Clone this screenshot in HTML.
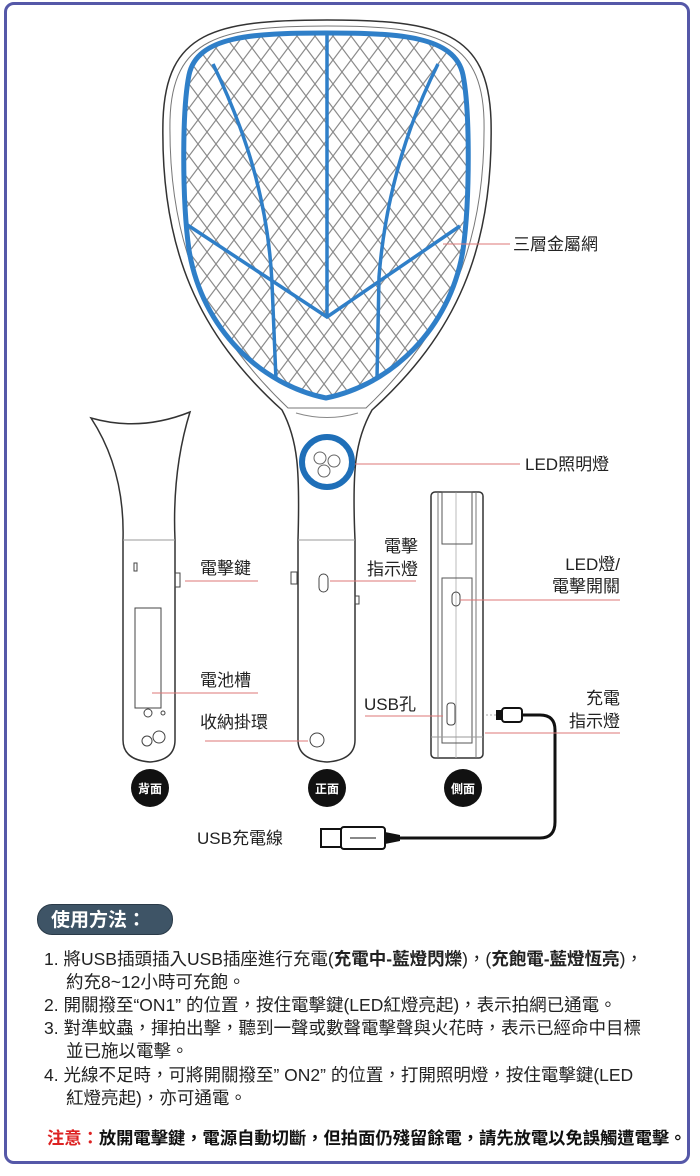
<!DOCTYPE html>
<html><head><meta charset="utf-8"><style>
body{margin:0;background:#fff;width:700px;height:1176px;overflow:hidden;font-family:"Liberation Sans","Noto Sans CJK TC",sans-serif;}
.frame{position:absolute;left:4px;top:2px;width:686px;height:1162px;border:3px solid #5558a8;border-radius:10px;box-sizing:border-box;}
svg{position:absolute;left:0;top:0}
.lbl{font-family:"Liberation Sans","Noto Sans CJK TC",sans-serif;font-size:17px;fill:#222}
.l{position:absolute;font-size:17.5px;color:#222;white-space:nowrap;line-height:20px}
.pill{position:absolute;left:37px;top:904px;width:136px;height:31px;background:#3e5466;border-radius:15px;color:#fff;font-weight:bold;font-size:19px;line-height:31px;padding-left:13px;box-sizing:border-box;border:1px solid #2a3a48;white-space:nowrap}
.note{position:absolute;left:47px;top:1124px;font-size:17.3px;font-weight:bold;color:#111;white-space:nowrap}
</style></head><body>
<div class="frame"></div>
<svg width="700" height="1176" viewBox="0 0 700 1176">
<defs>
<pattern id="mesh" width="18" height="24" patternUnits="userSpaceOnUse">
<path d="M0 0L18 24M18 0L0 24" stroke="#8a8a8a" stroke-width="1.2"/>
</pattern>
<clipPath id="hc"><path id="ip" d="M326 33 C400 33 455 36 463 75 C470 110 470 200 463 250 C450 330 390 385 326 398 C262 385 202 330 189 250 C182 200 182 110 189 75 C197 36 252 33 326 33Z"/></clipPath>
</defs>
<path d="M327 20 C440 20 488 32 491 120 C494 250 455 335 372 410 C355 440 352 470 355 540 L355 740 Q355 760 327 762 Q298 760 298 740 L298 540 C300 470 298 440 282 410 C199 335 160 250 163 120 C166 32 214 20 327 20Z" fill="#fff" stroke="#333" stroke-width="1.5"/>
<path d="M327 26 C434 26 482 38 484 120 C486 245 448 330 366 408 L288 408 C206 330 168 245 170 120 C172 38 220 26 327 26Z" fill="none" stroke="#777" stroke-width="1"/>
<rect x="180" y="30" width="292" height="372" fill="url(#mesh)" clip-path="url(#hc)"/>
<g fill="none" stroke="#2f7fc8" stroke-width="3.5" clip-path="url(#hc)">
<path d="M327 33 L327 318"/>
<path d="M186 224 L327 317 L460 226"/>
<path d="M213 64 C245 130 268 200 272 283 L276 380"/>
<path d="M438 64 C405 130 385 200 379 277 L377 378"/>
</g>
<path d="M326 33 C400 33 455 36 463 75 C470 110 470 200 463 250 C450 330 390 385 326 398 C262 385 202 330 189 250 C182 200 182 110 189 75 C197 36 252 33 326 33Z" fill="none" stroke="#2f7fc8" stroke-width="5"/>
<path d="M296 413 Q327 422 358 413" fill="none" stroke="#888"/>
<line x1="298" y1="540" x2="355" y2="540" stroke="#999"/>
<circle cx="327" cy="462" r="25" fill="#fff" stroke="#1f6fb8" stroke-width="6"/>
<circle cx="320" cy="458" r="6" fill="none" stroke="#666"/><circle cx="334" cy="461" r="6" fill="none" stroke="#666"/><circle cx="324" cy="471" r="6" fill="none" stroke="#666"/>
<rect x="319" y="574" width="9" height="18" rx="4.5" fill="none" stroke="#444"/>
<rect x="291" y="572" width="6" height="12" fill="none" stroke="#444"/>
<rect x="355" y="596" width="4" height="8" fill="none" stroke="#444"/>
<circle cx="317" cy="740" r="7" fill="none" stroke="#444"/>
<path d="M91 418 Q140 432 190 412 Q172 470 175 540 L175 740 Q175 760 150 762 Q123 760 123 740 L123 540 Q125 470 91 418Z" fill="#fff" stroke="#333" stroke-width="1.5"/>
<line x1="123" y1="540" x2="175" y2="540" stroke="#999"/>
<rect x="134" y="563" width="3" height="8" fill="none" stroke="#444"/>
<rect x="175" y="573" width="5" height="14" fill="none" stroke="#444"/>
<rect x="135" y="608" width="26" height="100" fill="none" stroke="#444"/>
<circle cx="148" cy="713" r="4" fill="none" stroke="#444"/><circle cx="163" cy="713" r="2" fill="none" stroke="#444"/>
<circle cx="147" cy="741" r="5" fill="none" stroke="#444"/><circle cx="159" cy="737" r="6" fill="none" stroke="#444"/>
<rect x="431" y="492" width="52" height="266" rx="4" fill="#fff" stroke="#333" stroke-width="1.5"/>
<line x1="438" y1="492" x2="438" y2="758" stroke="#777"/><line x1="476" y1="492" x2="476" y2="758" stroke="#777"/>
<line x1="456" y1="492" x2="456" y2="758" stroke="#bbb"/>
<rect x="442" y="492" width="30" height="52" fill="none" stroke="#555"/>
<rect x="442" y="578" width="30" height="165" fill="none" stroke="#555"/>
<rect x="452" y="592" width="8" height="14" rx="4" fill="none" stroke="#444"/>
<rect x="447" y="703" width="8" height="22" rx="3" fill="none" stroke="#444"/>
<line x1="431" y1="737" x2="483" y2="737" stroke="#999"/>
<g font-size="12" font-weight="bold" fill="#fff" text-anchor="middle">
<circle cx="150" cy="788" r="19" fill="#111"/><text x="150" y="793">背面</text>
<circle cx="327" cy="788" r="19" fill="#111"/><text x="327" y="793">正面</text>
<circle cx="463" cy="788" r="19" fill="#111"/><text x="463" y="793">側面</text>
</g>
<path d="M400 838 L540 838 Q555 838 555 822 L555 730 Q555 715 540 715 L522 715" fill="none" stroke="#111" stroke-width="3"/>
<line x1="486" y1="715" x2="496" y2="715" stroke="#aaa" stroke-dasharray="2 2"/>
<rect x="496" y="710" width="6" height="10" fill="#111"/>
<rect x="502" y="708" width="20" height="14" rx="3" fill="#fff" stroke="#111" stroke-width="2"/>
<rect x="321" y="829" width="20" height="18" fill="#fff" stroke="#111" stroke-width="2"/>
<rect x="341" y="827" width="44" height="22" rx="3" fill="#fff" stroke="#111" stroke-width="2"/>
<path d="M385 832 L400 835 L400 841 L385 844Z" fill="#111"/>
<line x1="350" y1="838" x2="376" y2="838" stroke="#111"/>
<g stroke="#d77" stroke-width="1">
<line x1="443" y1="244" x2="510" y2="244"/>
<line x1="355" y1="464" x2="520" y2="464"/>
<line x1="185" y1="581" x2="258" y2="581"/>
<line x1="330" y1="581" x2="416" y2="581"/>
<line x1="460" y1="600" x2="620" y2="600"/>
<line x1="152" y1="693" x2="258" y2="693"/>
<line x1="365" y1="716" x2="443" y2="716"/>
<line x1="205" y1="741" x2="308" y2="741"/>
<line x1="485" y1="733" x2="620" y2="733"/>
</g>
<g class="lbl">
<text x="513" y="250">三層金屬網</text>
<text x="525" y="470">LED照明燈</text>
<text x="200" y="574">電擊鍵</text>
<text x="418" y="552" text-anchor="end">電擊</text>
<text x="418" y="575" text-anchor="end">指示燈</text>
<text x="620" y="570" text-anchor="end">LED燈/</text>
<text x="620" y="592" text-anchor="end">電擊開關</text>
<text x="200" y="686">電池槽</text>
<text x="364" y="710">USB孔</text>
<text x="200" y="728">收納掛環</text>
<text x="620" y="704" text-anchor="end">充電</text>
<text x="620" y="727" text-anchor="end">指示燈</text>
<text x="197" y="844">USB充電線</text>
</g>
</svg>
<div class="pill">使用方法：</div>
<div class="l" style="left:44px;top:949px">1.&nbsp;將USB插頭插入USB插座進行充電(<b>充電中-藍燈閃爍</b>)，(<b>充飽電-藍燈恆亮</b>)，</div>
<div class="l" style="left:66px;top:972px">約充8~12小時可充飽。</div>
<div class="l" style="left:44px;top:995px">2.&nbsp;開關撥至“ON1” 的位置，按住電擊鍵(LED紅燈亮起)，表示拍網已通電。</div>
<div class="l" style="left:44px;top:1018px">3.&nbsp;對準蚊蟲，揮拍出擊，聽到一聲或數聲電擊聲與火花時，表示已經命中目標</div>
<div class="l" style="left:66px;top:1041px">並已施以電擊。</div>
<div class="l" style="left:44px;top:1065px">4.&nbsp;光線不足時，可將開關撥至” ON2” 的位置，打開照明燈，按住電擊鍵(LED</div>
<div class="l" style="left:66px;top:1088px">紅燈亮起)，亦可通電。</div>
<div class="note"><span style="color:#d22">注意：</span>放開電擊鍵，電源自動切斷，但拍面仍殘留餘電，請先放電以免誤觸遭電擊。</div>
</body></html>
